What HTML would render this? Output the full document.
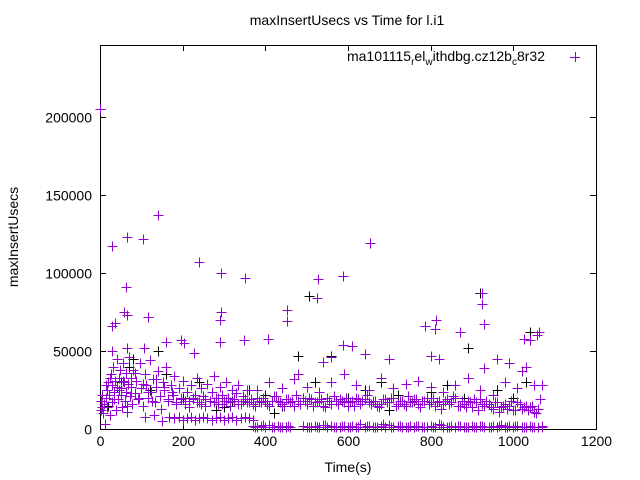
<!DOCTYPE html>
<html><head><meta charset="utf-8"><style>
body{margin:0;background:#fff;}
svg{display:block;font-family:"Liberation Sans",sans-serif;}
</style></head><body>
<svg id="chart" width="640" height="480">
<text x="347" y="25" text-anchor="middle" font-size="14">maxInsertUsecs vs Time for l.i1</text>
<g id="axes"></g>
<g id="pts" shape-rendering="crispEdges"></g>
<g>
<text x="545" y="61" text-anchor="end" font-size="14">ma101115<tspan font-size="10" dy="4">r</tspan><tspan dy="-4">el</tspan><tspan font-size="10" dy="4">w</tspan><tspan dy="-4">ithdbg.cz12b</tspan><tspan font-size="10" dy="4">c</tspan><tspan dy="-4">8r32</tspan></text>
<path d="M570,57.5H580M575.5,52V62" stroke="#9400d3" stroke-width="1" shape-rendering="crispEdges"/>
</g>
<text x="348" y="472" text-anchor="middle" font-size="14">Time(s)</text>
<text transform="translate(18,237) rotate(-90)" text-anchor="middle" font-size="14">maxInsertUsecs</text>
</svg>
<script>
const xTicks=[0,200,400,600,800,1000,1200];
const yTicks=[0,50000,100000,150000,200000];
const purpleT=[0,30,65,103,140,240,293,350,588,528,526,62,59,65,30,36,115,293,291,452,452,291,195,203,159,65,349,407,587,610,30,107,228,653,786,813,810,923,925,929,1062,1058,
2,3,5,8,10,12,14,16,18,20,22,24,26,28,30,32,34,36,38,40,42,44,46,48,50,52,54,56,58,60,62,64,66,68,70,72,74,76,78,80,84,88,92,96,100,104,108,112,116,120,124,128,132,136,140,144,148,152,156,160,164,168,172,176,180,185,190,195,200,205,210,215,220,225,230,235,240,245,250,255,260,265,270,275,280,285,290,295,300,305,310,315,320,325,330,335,340,345,350,355,360,
6,15,25,35,45,55,65,75,85,95,105,115,125,135,145,155,165,175,
180,190,200,210,220,230,240,250,260,270,280,290,300,310,320,330,340,350,360,370,110,130,150,185,195,205,215,225,235,245,255,265,275,285,295,305,315,325,335,345,355,
365,375,385,395,405,415,425,435,445,455,465,475,485,495,505,515,525,535,545,555,565,575,585,595,605,615,625,635,645,655,665,675,685,695,705,715,725,735,745,755,765,775,785,795,805,815,825,835,845,855,865,875,885,895,905,915,925,935,945,955,965,975,985,995,1005,1015,1025,1035,1045,1055,1065,
370,380,390,400,410,420,430,440,450,460,470,480,490,500,510,520,530,540,550,560,570,580,590,600,610,620,630,640,650,660,670,680,690,700,710,720,730,740,750,760,770,780,790,800,810,820,830,840,850,860,870,880,890,900,910,920,930,940,950,960,970,980,990,1000,1010,1020,1030,1040,1050,1060,1070,
380,410,440,470,500,530,560,590,620,650,680,710,740,770,800,830,860,890,920,950,980,1010,1030,960,990,1025,1040,1020,930,870,820,800,700,640,560,540,480,1050,1070,
370,380,390,400,410,420,430,440,450,460,490,500,510,520,530,540,550,560,570,580,590,600,610,620,630,640,650,660,670,680,690,700,710,720,730,740,750,760,770,780,790,800,810,820,830,840,850,860,870,880,890,900,910,920,930,940,950,960,970,980,990,1000,1010,1020,1030,1040,1050,1060,1070,
375,395,415,435,455,505,525,545,565,585,605,625,645,665,685,705,725,745,765,785,805,825,845,865,885,905,925,945,965,985,1005,1025,1045,1065];
const purpleV=[205,117,123,122,137,107,100,97,98,96,84,91,75,73,66,68,72,75,70,76,69,56,57,55,56,52,57,58,54,53,50,52,49,119,66,70,64,87,80,67,62,60,
18,12,14,10,16,3,20,25,14,30,22,9,35,28,17,40,24,31,12,45,27,19,33,38,22,26,14,42,30,18,36,24,11,29,46,21,33,27,16,38,23,31,19,42,26,15,35,28,20,44,24,32,17,27,37,21,13,30,25,40,18,8,28,22,34,16,26,20,31,18,24,14,28,19,22,33,17,26,21,15,29,18,24,34,20,16,27,22,18,30,20,15,25,18,23,28,16,21,19,25,17,
22,28,33,19,25,31,15,23,36,20,29,24,18,32,21,27,19,24,
7,8,6,7,8,6,7,8,7,6,7,8,6,7,8,6,7,8,7,6,8,9,5,17,19,16,18,20,17,16,19,18,17,20,16,18,17,19,16,18,
17,19,15,18,20,16,18,21,17,15,19,18,22,16,18,20,15,17,19,14,18,21,16,18,20,17,15,19,18,22,16,18,14,19,17,20,15,18,16,21,17,19,14,18,16,20,17,13,18,16,21,15,18,14,17,19,12,16,18,14,17,11,15,13,18,12,16,14,12,15,10,
19,16,20,17,18,15,21,18,16,19,17,15,18,20,16,19,17,18,15,20,16,18,19,17,15,18,20,16,19,17,18,15,16,19,17,20,16,18,15,17,19,16,18,20,17,15,18,16,19,17,20,15,16,18,14,17,19,15,16,13,17,14,16,15,12,17,13,15,14,11,13,
28,25,30,26,32,27,24,30,35,28,25,33,26,29,31,27,24,28,33,25,22,30,26,40,45,42,58,57,37,39,62,45,47,45,48,46,43,35,28,
1,2,1.5,2,1,2.5,1,2,1.5,1,1,2,1.5,1,2,1,2.5,1,2,1.5,1,2,1,2,1.5,3,1,2,1.5,1,2,1,2.5,1,2,1.5,1,2,1,2,1.5,1,2,1,3,1.5,1,2,1,2,1.5,1,2,1,2,1.5,1,2,1,2.5,1,2,1,2,1.5,1,2,1,1.5,
2,1,2.5,1.5,1,2,1,1.5,2.5,1,2,1.5,1,2,1,3,1.5,2,1,2,1.5,1,2.5,1,2,1.5,1,2,1,2,1.5,2,1,1.5];
const blackT=[20,50,80,120,160,200,240,280,320,360,400,440,480,520,560,600,640,680,720,760,800,840,880,920,960,1000,1040,1030,70,140,505,890,300,420,700,980];
const blackV=[15,30,45,25,35,20,30,12,18,25,22,15,47,30,47,20,25,30,22,18,24,28,20,87,25,20,62,30,40,50,85,52,14,10,12,16];
const X0=100,X1=596,Y0=429,Y1=45;
function sx(t){return X0+(t-0)/(1200-0)*(X1-X0);}
function sy(v){return Y0-v/50000*78;}
const NS='http://www.w3.org/2000/svg';
const axes=document.getElementById('axes');
let frame=document.createElementNS(NS,'rect');
frame.setAttribute('x',X0+0.5);frame.setAttribute('y',Y1+0.5);frame.setAttribute('width',X1-X0);frame.setAttribute('height',Y0-Y1);
frame.setAttribute('fill','none');frame.setAttribute('stroke','#000');


axes.appendChild(frame);
xTicks.forEach(t=>{
  const x=Math.round(sx(t))+0.5;
  let p=document.createElementNS(NS,'path');
  p.setAttribute('d',`M${x},${Y0}v-6M${x},${Y1}v6`);p.setAttribute('stroke','#000');
  
  
  axes.appendChild(p);
  let tx=document.createElementNS(NS,'text');
  tx.setAttribute('x',x);tx.setAttribute('y',Y0+17);tx.setAttribute('text-anchor','middle');tx.setAttribute('font-size','14');
  tx.textContent=t;
  
  
  axes.appendChild(tx);
});
yTicks.forEach(v=>{
  const y=Math.round(sy(v))+0.5;
  let p=document.createElementNS(NS,'path');
  p.setAttribute('d',`M${X0},${y}h6M${X1},${y}h-6`);p.setAttribute('stroke','#000');
  
  
  axes.appendChild(p);
  let tx=document.createElementNS(NS,'text');
  tx.setAttribute('x',X0-8);tx.setAttribute('y',y+5);tx.setAttribute('text-anchor','end');tx.setAttribute('font-size','14');
  tx.textContent=v;
  
  
  axes.appendChild(tx);
});
const g=document.getElementById('pts');
function plus(t,v,c,name){
  const x=Math.round(sx(t))+0.5,y=Math.round(sy(v*1000))+0.5;
  let p=document.createElementNS(NS,'path');
  p.setAttribute('d',`M${x-5},${y}h10M${x},${y-5}v10`);
  p.setAttribute('stroke',c);p.setAttribute('stroke-width','1');
  
  
  g.appendChild(p);
}
blackT.forEach((t,i)=>plus(t,blackV[i],'#000','black-point'));
purpleT.forEach((t,i)=>plus(t,purpleV[i],'#9400d3','purple-point'));
</script>
</body></html>
